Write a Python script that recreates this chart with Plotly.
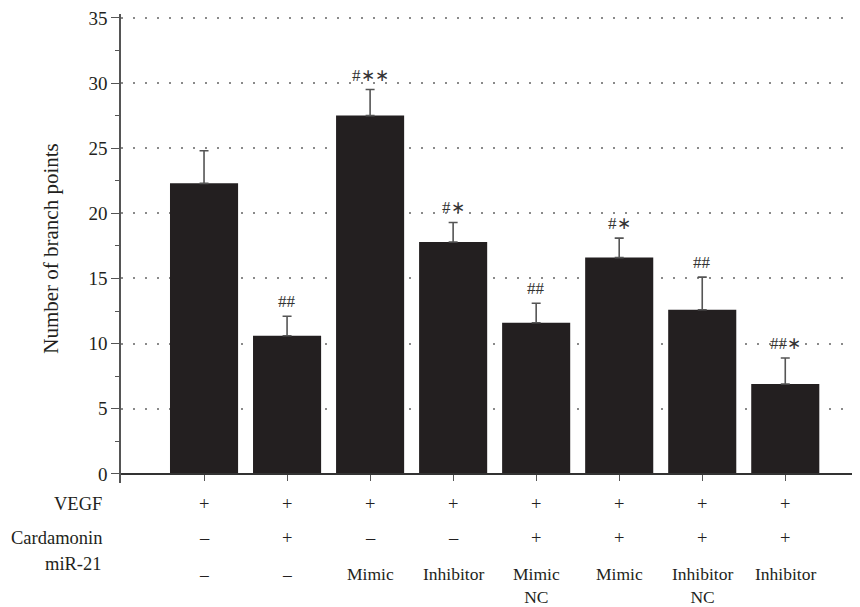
import plotly.graph_objects as go

categories = ["G1", "G2", "G3", "G4", "G5", "G6", "G7", "G8"]
values = [22.3, 10.6, 27.5, 17.8, 11.6, 16.6, 12.6, 6.9]
errors = [2.5, 1.5, 2.0, 1.5, 1.5, 1.5, 2.5, 2.0]
sig_labels = ["", "##", "#∗∗", "#∗", "##", "#∗", "##", "##∗"]

vegf = ["+", "+", "+", "+", "+", "+", "+", "+"]
cardamonin = ["–", "+", "–", "–", "+", "+", "+", "+"]
mir21 = ["–", "–", "Mimic", "Inhibitor", "Mimic<br>NC", "Mimic", "Inhibitor<br>NC", "Inhibitor"]
row_labels = ["VEGF", "Cardamonin", "miR-21"]

FONT = "Liberation Serif"
TXT = "#231f20"
xpos = list(range(len(categories)))

fig = go.Figure()
fig.add_trace(go.Bar(
    x=xpos, y=values, width=0.82,
    marker=dict(color="#231f20", line=dict(width=0)),
    error_y=dict(type="data", symmetric=False, array=errors,
                 arrayminus=[0] * len(errors), color="#555555",
                 thickness=1.6, width=4.5),
    showlegend=False,
))

annotations = []
for i, (v, e, s) in enumerate(zip(values, errors, sig_labels)):
    if s:
        annotations.append(dict(x=i, y=v + e, xref="x", yref="y", text=s,
                                showarrow=False, yanchor="bottom", yshift=3,
                                font=dict(family=FONT, size=17, color="#333333")))

# table rows (paper coordinates below the plot area)
row_y = [-0.0457, -0.118, -0.172]
for lbl, ry in zip(row_labels, row_y):
    annotations.append(dict(x=-0.023, y=ry, xref="paper", yref="paper", text=lbl,
                            showarrow=False, xanchor="right", yanchor="middle",
                            font=dict(family=FONT, size=18.5, color=TXT)))
for i in xpos:
    annotations.append(dict(x=i, y=row_y[0], xref="x", yref="paper", text=vegf[i],
                            showarrow=False, yanchor="middle",
                            font=dict(family=FONT, size=18.5, color=TXT)))
    annotations.append(dict(x=i, y=row_y[1], xref="x", yref="paper", text=cardamonin[i],
                            showarrow=False, yanchor="middle",
                            font=dict(family=FONT, size=18.5, color=TXT)))
    annotations.append(dict(x=i, y=-0.170, xref="x", yref="paper", text=mir21[i],
                            showarrow=False, yanchor="top", borderpad=0,
                            font=dict(family=FONT, size=17.5, color=TXT)))

# page body has an 8px margin, so the figure is 8px smaller and margins shifted
fig.update_layout(
    width=852, height=599,
    margin=dict(l=113, r=0, t=6.4, b=124.4),
    plot_bgcolor="white", paper_bgcolor="white",
    annotations=annotations,
    font=dict(family=FONT, size=19, color=TXT),
)
fig.update_xaxes(
    range=[-1, 7.9], tickvals=xpos, ticktext=[""] * len(xpos),
    showgrid=False, zeroline=False, automargin=False,
    showline=True, linecolor="#333333", linewidth=1.5,
    ticks="outside", ticklen=6, tickcolor="#555555", tickwidth=1.3,
    anchor="free", position=0.7 / 36.0,
)
fig.update_yaxes(
    range=[-0.7, 35.3], tickvals=[0, 5, 10, 15, 20, 25, 30, 35],
    showgrid=True, gridcolor="#8a8a8a", griddash="1.5px,10.5px", gridwidth=1.5,
    zeroline=False, automargin=False, ticklabeloverflow="allow",
    showline=True, linecolor="#555555", linewidth=1.5,
    ticks="outside", ticklen=8, tickcolor="#555555", tickwidth=1.3,
    minor=dict(tickvals=[2.5, 7.5, 12.5, 17.5, 22.5, 27.5, 32.5],
               ticks="outside", ticklen=4, tickcolor="#555555", showgrid=False),
    tickfont=dict(family=FONT, size=19, color=TXT),
    title=dict(text="Number of branch points", standoff=24,
               font=dict(family=FONT, size=21, color=TXT)),
)

fig.write_html("out.html")
